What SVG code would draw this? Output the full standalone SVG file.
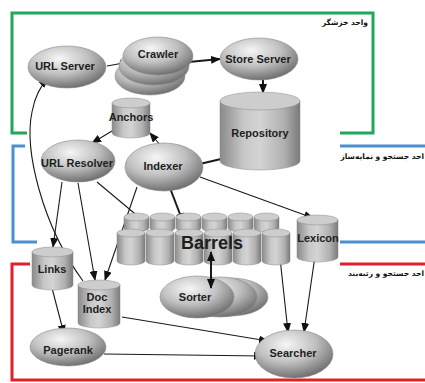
<svg xmlns="http://www.w3.org/2000/svg" xmlns:xlink="http://www.w3.org/1999/xlink" width="425" height="383" viewBox="0 0 425 383">
<style>
.lbl{font-family:"Liberation Sans",Arial,sans-serif;font-weight:bold;font-size:11px;fill:#1e1e1e;text-anchor:middle}
.fa{font-family:"DejaVu Sans","Noto Sans",sans-serif;font-weight:bold;font-size:7.5px;fill:#111;text-anchor:end}
.ell{fill:url(#eg);stroke:#8a8a8a;stroke-width:0.6}
.cyl{fill:url(#cg);stroke:#8a8a8a;stroke-width:0.5}
.cyt{fill:#cdcdcd;stroke:#8a8a8a;stroke-width:0.5}
.ln{fill:none;stroke:#1a1a1a;stroke-width:1.1}
.tk{stroke-width:2}
.box{fill:none;stroke-width:3}
</style>
<defs>
<radialGradient id="eg" cx="0.4" cy="0.3" r="0.75">
<stop offset="0" stop-color="#f6f6f6"/>
<stop offset="0.5" stop-color="#c0c0c0"/>
<stop offset="1" stop-color="#666"/>
</radialGradient>
<linearGradient id="cg" x1="0" y1="0" x2="1" y2="0">
<stop offset="0" stop-color="#8a8a8a"/>
<stop offset="0.3" stop-color="#c8c8c8"/>
<stop offset="0.5" stop-color="#d4d4d4"/>
<stop offset="0.8" stop-color="#b0b0b0"/>
<stop offset="1" stop-color="#7a7a7a"/>
</linearGradient>
<marker id="ah" markerUnits="userSpaceOnUse" markerWidth="10" markerHeight="8" refX="9" refY="4" orient="auto">
<path d="M0,0 L10,4 L0,8 z" fill="#111"/>
</marker>
<marker id="as" markerUnits="userSpaceOnUse" markerWidth="10" markerHeight="8" refX="1" refY="4" orient="auto">
<path d="M10,0 L0,4 L10,8 z" fill="#111"/>
</marker>
<g id="bb"><path class="cyl" d="M0,4 L0,15 A12.5,4 0 0 0 25,15 L25,4 Z"/><ellipse class="cyt" cx="12.5" cy="4" rx="12.5" ry="4"/></g>
<g id="fb"><path class="cyl" d="M0,4 L0,32 A14,4 0 0 0 28,32 L28,4 Z"/><ellipse class="cyt" cx="14" cy="4" rx="14" ry="4"/></g>
</defs>
<rect width="425" height="383" fill="#fff"/>

<g id="units">
<path class="box" stroke="#22a65a" d="M27,133 H12 V13 H373 V133 H340"/>
<text class="fa" x="368" y="25">واحد خزشگر</text>
<path class="box" stroke="#4b8fd0" d="M25,146 H13 V242 H37 M340,146 H428 M340,242 H428"/>
<text class="fa" x="424" y="159">احد جستجو و نمایه‌ساز</text>
<path class="box" stroke="#e0202a" d="M30,264 H12 V380 H428 M340,264 H428"/>
<text class="fa" x="424" y="276">احد جستجو و رتبه‌بند</text>
</g>

<g id="connectors">
<path class="ln" marker-end="url(#ah)" d="M107,66 L129,62"/>
<path class="ln tk" marker-end="url(#ah)" d="M178,63 L220,59"/>
<path class="ln tk" marker-end="url(#ah)" d="M263,72 L263,93"/>
<path class="ln tk" marker-end="url(#ah)" d="M221,159 L187,167"/>
<path class="ln" marker-end="url(#ah)" d="M161,146 L150,133"/>
<path class="ln" marker-end="url(#ah)" d="M117,128 L92,143"/>
<path class="ln" marker-end="url(#ah)" d="M62,182 L53,247"/>
<path class="ln" marker-end="url(#ah)" d="M78,183 L95,280"/>
<path class="ln" marker-end="url(#ah)" d="M137,187 L105,280"/>
<path class="ln" marker-end="url(#ah)" d="M97,182 L146,223"/>
<path class="ln tk" marker-end="url(#ah)" d="M170,188 L183,222"/>
<path class="ln" marker-end="url(#ah)" d="M200,177 L313,218"/>
<path class="ln" marker-end="url(#ah)" d="M52,288 L64,334"/>
<path class="ln" marker-end="url(#ah)" d="M122,317 L268,341"/>
<path class="ln" marker-end="url(#ah)" d="M104,354 L263,356"/>
<path class="ln" marker-end="url(#ah)" d="M280,258 L288,332"/>
<path class="ln" marker-end="url(#ah)" d="M315,256 L304,332"/>
<path class="ln" marker-end="url(#ah)" d="M83,281 C42,225 24,150 32,112 Q36,90 48,79"/>
</g>

<g id="url-server"><ellipse class="ell" cx="67" cy="67" rx="39" ry="21"/><text class="lbl" x="65" y="70">URL Server</text></g>
<g id="crawler">
<ellipse class="ell" cx="150" cy="76" rx="35" ry="19"/>
<ellipse class="ell" cx="154" cy="66" rx="35" ry="19"/>
<ellipse class="ell" cx="158" cy="56" rx="35" ry="19"/>
<text class="lbl" x="158" y="58">Crawler</text></g>
<g id="store-server"><ellipse class="ell" cx="259" cy="59" rx="39" ry="21"/><text class="lbl" x="258" y="63">Store Server</text></g>
<g id="repository"><path class="cyl" d="M220,101 L220,161 A40,9 0 0 0 300,161 L300,101 Z"/><ellipse class="cyt" cx="260" cy="101" rx="40" ry="9"/><text class="lbl" x="260" y="137">Repository</text></g>
<g id="anchors"><path class="cyl" d="M112,103 L112,133 A19,5 0 0 0 150,133 L150,103 Z"/><ellipse class="cyt" cx="131" cy="103" rx="19" ry="5"/><text class="lbl" x="131" y="121">Anchors</text></g>
<g id="url-resolver"><ellipse class="ell" cx="78" cy="161" rx="37" ry="21"/><text class="lbl" x="77" y="167">URL Resolver</text></g>
<g id="indexer"><ellipse class="ell" cx="164" cy="167" rx="39" ry="24"/><text class="lbl" x="163" y="170">Indexer</text></g>
<g id="barrels">
<use xlink:href="#bb" x="124" y="213"/><use xlink:href="#bb" x="150" y="213"/><use xlink:href="#bb" x="176" y="213"/><use xlink:href="#bb" x="202" y="213"/><use xlink:href="#bb" x="228" y="213"/><use xlink:href="#bb" x="254" y="213"/>
<use xlink:href="#fb" x="117" y="229"/><use xlink:href="#fb" x="146" y="229"/><use xlink:href="#fb" x="175" y="229"/><use xlink:href="#fb" x="204" y="229"/><use xlink:href="#fb" x="233" y="229"/><use xlink:href="#fb" x="262" y="229"/>
<text class="lbl" x="212" y="249" style="font-size:18px">Barrels</text></g>
<g id="lexicon"><path class="cyl" d="M297,220 L297,257 A20.5,5 0 0 0 338,257 L338,220 Z"/><ellipse class="cyt" cx="317.5" cy="220" rx="20.5" ry="5"/><text class="lbl" x="318" y="242">Lexicon</text></g>
<g id="links"><path class="cyl" d="M32,252 L32,285 A20.5,5 0 0 0 73,285 L73,252 Z"/><ellipse class="cyt" cx="52.5" cy="252" rx="20.5" ry="5"/><text class="lbl" x="52" y="273">Links</text></g>
<g id="doc-index"><path class="cyl" d="M78,285 L78,323 A21,5 0 0 0 120,323 L120,285 Z"/><ellipse class="cyt" cx="99" cy="285" rx="21" ry="5"/><text class="lbl" x="97" y="301">Doc</text><text class="lbl" x="97" y="313">Index</text></g>
<g id="sorter">
<ellipse class="ell" cx="231" cy="297" rx="37" ry="19"/>
<ellipse class="ell" cx="220" cy="297" rx="37" ry="20"/>
<ellipse class="ell" cx="197" cy="297" rx="37" ry="21"/>
<text class="lbl" x="195" y="301">Sorter</text></g>
<g id="pagerank"><ellipse class="ell" cx="68" cy="347" rx="38" ry="19"/><text class="lbl" x="68" y="354">Pagerank</text></g>
<g id="searcher"><ellipse class="ell" cx="294" cy="354" rx="39" ry="24"/><text class="lbl" x="293" y="357">Searcher</text></g>
<path class="ln tk" marker-start="url(#as)" marker-end="url(#ah)" d="M211,252 L211,288"/>
</svg>
